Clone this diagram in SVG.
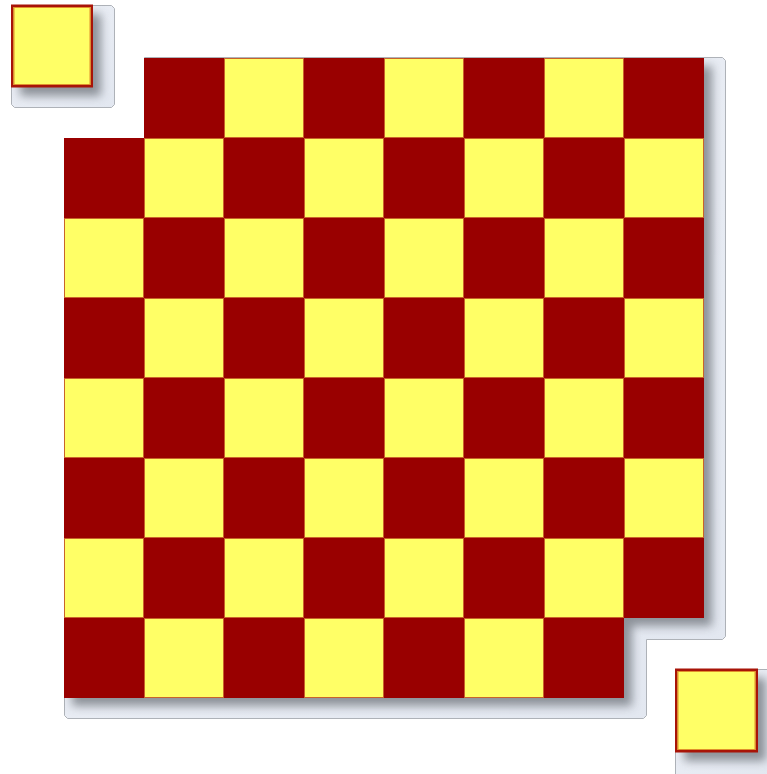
<svg xmlns="http://www.w3.org/2000/svg" width="767" height="774" viewBox="0 0 767 774">
<defs>
  <linearGradient id="pg" x1="0" y1="0" x2="1" y2="1">
    <stop offset="0" stop-color="#eef1f7"/>
    <stop offset="1" stop-color="#e2e7f0"/>
  </linearGradient>
  <filter id="blur" x="-20%" y="-20%" width="140%" height="140%">
    <feGaussianBlur stdDeviation="5"/>
  </filter>
  <clipPath id="cpBoard">
    <path d="M144,58 L725,58 L725,639 L646,639 L646,718 L64,718 L64,138 L144,138 Z"/>
  </clipPath>
  <clipPath id="cpTL"><rect x="11" y="5" width="104" height="103"/></clipPath>
  <clipPath id="cpBR"><rect x="675" y="669" width="100" height="110"/></clipPath>
</defs>
<style>
  .panel { fill: url(#pg); stroke: #aeb2b8; stroke-width: 1; }
  .shadow { fill: #6f757c; filter: url(#blur); opacity: 0.75; }
  .dark { fill: #990000; }
  .light { fill: #ffff66; stroke: #c8642a; stroke-width: 1; }
  .piece { fill: #ffff66; stroke: #a81408; stroke-width: 2.5; }
  .pieceIn { fill: none; stroke: #e0902c; stroke-width: 1; }
</style>

<g id="board">
  <path class="panel" d="M144.5,57.5 L722.5,57.5 L725.5,60.5 L725.5,636.5 L722.5,639.5 L646.5,639.5 L646.5,715.5 L643.5,718.5 L67.5,718.5 L64.5,715.5 L64.5,138.5 L144.5,138.5 Z"/>
  <g clip-path="url(#cpBoard)">
    <path class="shadow" d="M152,66 L712,66 L712,626 L632,626 L632,706 L72,706 L72,146 L152,146 Z"/>
  </g>
  <path class="dark" d="M144,58 L704,58 L704,618 L624,618 L624,698 L64,698 L64,138 L144,138 Z"/>
  <g id="cells">
    <rect class="light" x="224.5" y="58.5" width="79" height="79"/>
    <rect class="light" x="384.5" y="58.5" width="79" height="79"/>
    <rect class="light" x="544.5" y="58.5" width="79" height="79"/>

    <rect class="light" x="144.5" y="138.5" width="79" height="79"/>
    <rect class="light" x="304.5" y="138.5" width="79" height="79"/>
    <rect class="light" x="464.5" y="138.5" width="79" height="79"/>
    <rect class="light" x="624.5" y="138.5" width="79" height="79"/>

    <rect class="light" x="64.5" y="218.5" width="79" height="79"/>
    <rect class="light" x="224.5" y="218.5" width="79" height="79"/>
    <rect class="light" x="384.5" y="218.5" width="79" height="79"/>
    <rect class="light" x="544.5" y="218.5" width="79" height="79"/>

    <rect class="light" x="144.5" y="298.5" width="79" height="79"/>
    <rect class="light" x="304.5" y="298.5" width="79" height="79"/>
    <rect class="light" x="464.5" y="298.5" width="79" height="79"/>
    <rect class="light" x="624.5" y="298.5" width="79" height="79"/>

    <rect class="light" x="64.5" y="378.5" width="79" height="79"/>
    <rect class="light" x="224.5" y="378.5" width="79" height="79"/>
    <rect class="light" x="384.5" y="378.5" width="79" height="79"/>
    <rect class="light" x="544.5" y="378.5" width="79" height="79"/>

    <rect class="light" x="144.5" y="458.5" width="79" height="79"/>
    <rect class="light" x="304.5" y="458.5" width="79" height="79"/>
    <rect class="light" x="464.5" y="458.5" width="79" height="79"/>
    <rect class="light" x="624.5" y="458.5" width="79" height="79"/>

    <rect class="light" x="64.5" y="538.5" width="79" height="79"/>
    <rect class="light" x="224.5" y="538.5" width="79" height="79"/>
    <rect class="light" x="384.5" y="538.5" width="79" height="79"/>
    <rect class="light" x="544.5" y="538.5" width="79" height="79"/>

    <rect class="light" x="144.5" y="618.5" width="79" height="79"/>
    <rect class="light" x="304.5" y="618.5" width="79" height="79"/>
    <rect class="light" x="464.5" y="618.5" width="79" height="79"/>
  </g>
</g>

<g id="piece-top-left">
  <path class="panel" d="M11.5,5.5 L111.5,5.5 L114.5,8.5 L114.5,104.5 L111.5,107.5 L14.5,107.5 L11.5,104.5 Z"/>
  <g clip-path="url(#cpTL)">
    <rect class="shadow" x="20" y="14" width="81" height="82"/>
  </g>
  <rect class="piece" x="12.25" y="5.75" width="79.5" height="80.5"/>
  <rect class="pieceIn" x="14" y="7.5" width="76" height="77"/>
</g>

<g id="piece-bottom-right">
  <path class="panel" d="M675.5,669.5 L770,669.5 L770,780 L675.5,780 Z"/>
  <g clip-path="url(#cpBR)">
    <rect class="shadow" x="684" y="678" width="82" height="83"/>
  </g>
  <rect class="piece" x="676.25" y="669.75" width="80.5" height="81.5"/>
  <rect class="pieceIn" x="678" y="671.5" width="77" height="78"/>
</g>
</svg>
